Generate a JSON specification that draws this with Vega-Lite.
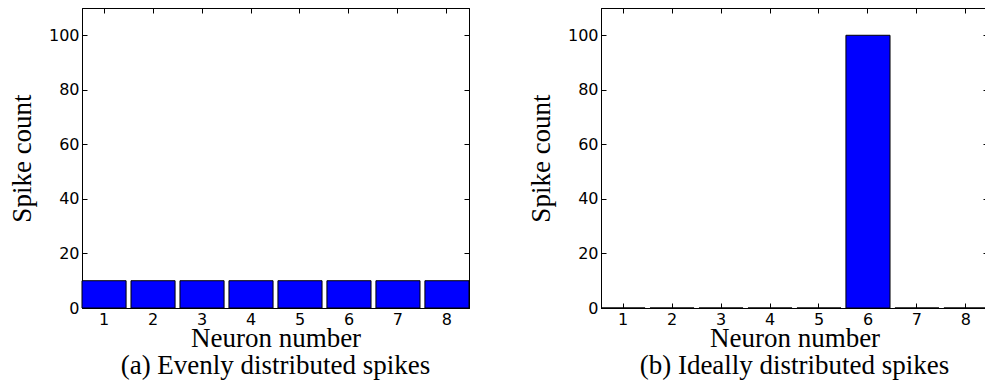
{
  "$schema": "https://vega.github.io/schema/vega-lite/v6.json",
  "background": "white",
  "padding": {"left": 7, "top": 7, "right": 0, "bottom": 0},
  "bounds": "flush",
  "spacing": 132,
  "datasets": {
    "even": [
      {"neuron": 1, "count": 10}, {"neuron": 2, "count": 10}, {"neuron": 3, "count": 10}, {"neuron": 4, "count": 10},
      {"neuron": 5, "count": 10}, {"neuron": 6, "count": 10}, {"neuron": 7, "count": 10}, {"neuron": 8, "count": 10}
    ],
    "ideal": [
      {"neuron": 1, "count": 0}, {"neuron": 2, "count": 0}, {"neuron": 3, "count": 0}, {"neuron": 4, "count": 0},
      {"neuron": 5, "count": 0}, {"neuron": 6, "count": 100}, {"neuron": 7, "count": 0}, {"neuron": 8, "count": 0}
    ]
  },
  "config": {
    "view": {"stroke": "black", "strokeWidth": 1},
    "axis": {
      "domainColor": "black", "domainWidth": 1, "tickColor": "black", "tickWidth": 1,
      "labelColor": "black", "titleColor": "black", "grid": false,
      "labelFont": "DejaVu Sans", "labelFontSize": 16, "labelPadding": 8,
      "titleFont": "Liberation Serif", "titleFontSize": 27, "titleFontWeight": "normal",
      "tickSize": -5
    },
    "title": {"font": "Liberation Serif", "fontSize": 27, "fontWeight": "normal", "color": "black"}
  },
  "hconcat": [
    {
      "width": 387, "height": 300,
      "data": {"name": "even"},
      "title": {"text": "(a) Evenly distributed spikes", "orient": "bottom", "anchor": "middle", "frame": "group", "offset": 2},
      "layer": [
        {
          "mark": {"type": "bar", "fill": "#0000ff", "stroke": "black", "strokeWidth": 1},
          "encoding": {
            "x": {"field": "neuron", "type": "ordinal", "scale": {"paddingInner": 0.1, "paddingOuter": 0},
                  "axis": {"orient": "bottom", "title": "Neuron number", "labelAngle": 0, "titlePadding": -2}},
            "y": {"field": "count", "type": "quantitative", "scale": {"domain": [0, 110], "nice": false},
                  "axis": {"orient": "left", "title": "Spike count", "values": [0, 20, 40, 60, 80, 100], "titlePadding": 12}}
          }
        },
        {
          "mark": {"type": "bar", "opacity": 0},
          "encoding": {
            "x": {"field": "neuron", "type": "ordinal", "axis": {"orient": "top", "labels": false, "title": null}},
            "y": {"field": "count", "type": "quantitative", "axis": {"orient": "right", "labels": false, "title": null, "values": [0, 20, 40, 60, 80, 100]}}
          }
        }
      ],
      "resolve": {"axis": {"x": "independent", "y": "independent"}}
    },
    {
      "width": 387, "height": 300,
      "data": {"name": "ideal"},
      "title": {"text": "(b) Ideally distributed spikes", "orient": "bottom", "anchor": "middle", "frame": "group", "offset": 2},
      "layer": [
        {
          "mark": {"type": "bar", "fill": "#0000ff", "stroke": "black", "strokeWidth": 1},
          "encoding": {
            "x": {"field": "neuron", "type": "ordinal", "scale": {"paddingInner": 0.1, "paddingOuter": 0},
                  "axis": {"orient": "bottom", "title": "Neuron number", "labelAngle": 0, "titlePadding": -2}},
            "y": {"field": "count", "type": "quantitative", "scale": {"domain": [0, 110], "nice": false},
                  "axis": {"orient": "left", "title": "Spike count", "values": [0, 20, 40, 60, 80, 100], "titlePadding": 12}}
          }
        },
        {
          "mark": {"type": "bar", "opacity": 0},
          "encoding": {
            "x": {"field": "neuron", "type": "ordinal", "axis": {"orient": "top", "labels": false, "title": null}},
            "y": {"field": "count", "type": "quantitative", "axis": {"orient": "right", "labels": false, "title": null, "values": [0, 20, 40, 60, 80, 100]}}
          }
        }
      ],
      "resolve": {"axis": {"x": "independent", "y": "independent"}}
    }
  ]
}
